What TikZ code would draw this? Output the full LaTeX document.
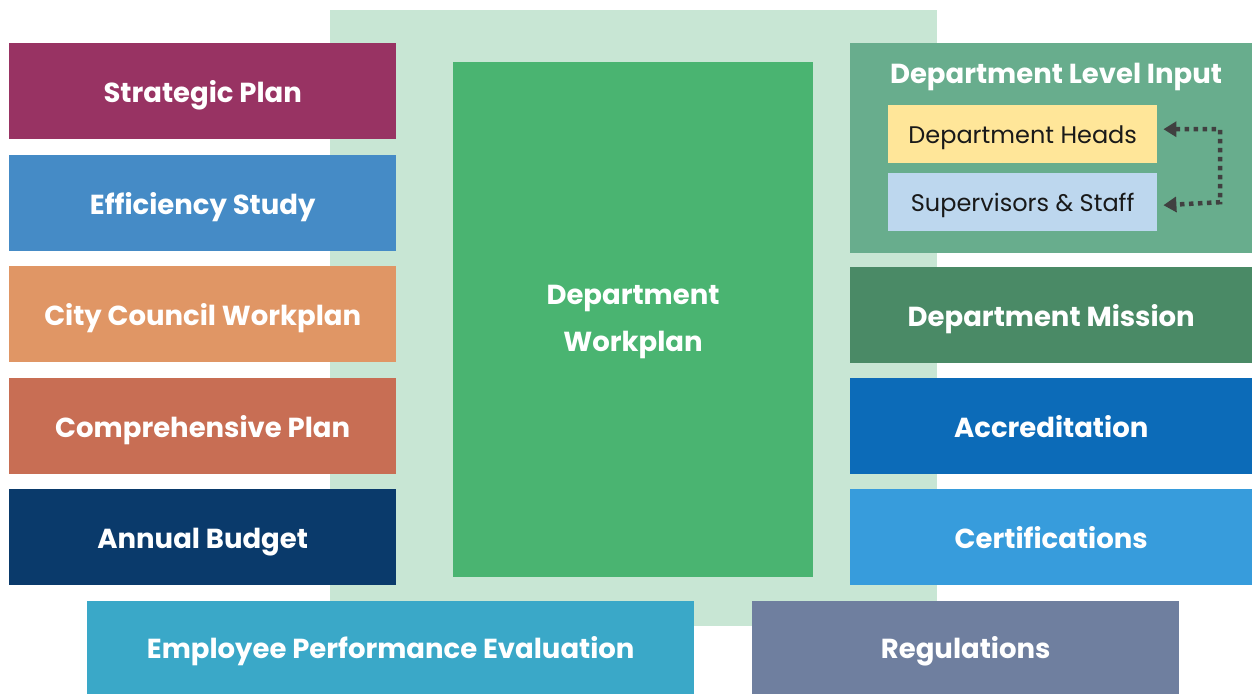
\documentclass[tikz,border=0pt]{standalone}
\usepackage{fontspec}
\setmainfont{Poppins}
\usetikzlibrary{arrows.meta}
\definecolor{bgGreen}{HTML}{C8E6D4}
\definecolor{wpGreen}{HTML}{4AB471}
\definecolor{cStrat}{HTML}{983363}
\definecolor{cEff}{HTML}{458BC6}
\definecolor{cCity}{HTML}{E09665}
\definecolor{cComp}{HTML}{C86E54}
\definecolor{cBudget}{HTML}{0A3A6B}
\definecolor{cDli}{HTML}{68AD8D}
\definecolor{cHeads}{HTML}{FFE699}
\definecolor{cSup}{HTML}{BDD7EE}
\definecolor{cMission}{HTML}{4A8A66}
\definecolor{cAccr}{HTML}{0C6BB8}
\definecolor{cCert}{HTML}{379CDC}
\definecolor{cEmp}{HTML}{3AA8C8}
\definecolor{cReg}{HTML}{6F7F9F}
\definecolor{cArrow}{HTML}{404040}
\tikzset{
  block/.style={anchor=north west, inner sep=0pt, text=white,
    font=\fontsize{27.5}{32}\selectfont\bfseries, text height=24pt, text depth=2pt},
  subbox/.style={anchor=north west, inner sep=0pt, text=black!90,
    font=\fontsize{24}{28}\selectfont, text height=20pt, text depth=2pt},
  loop/.style={draw=cArrow, line width=4.5pt, dash pattern=on 4.5pt off 4.5pt,
    {Triangle[length=13pt,width=15pt]}-{Triangle[length=13pt,width=15pt]}},
}
\begin{document}
\begin{tikzpicture}[x=1pt,y=-1pt]
\useasboundingbox (0,0) rectangle (1252,694);
% backdrop and central workplan
\fill[bgGreen] (330,10) rectangle (937,626);
\node[block, fill=wpGreen, minimum width=360pt, minimum height=515pt] (wp) at (453,62) {};
\node[text=white, font=\fontsize{27.5}{47}\selectfont\bfseries, align=center] (wptext) at (633,322) {Department\\Workplan};
% left column
\node[block, fill=cStrat, minimum width=387pt, minimum height=96pt] (strat) at (9,43) {Strategic Plan};
\node[block, fill=cEff, minimum width=387pt, minimum height=96pt] (eff) at (9,155) {Efficiency Study};
\node[block, fill=cCity, minimum width=387pt, minimum height=96pt] (city) at (9,266) {City Council Workplan};
\node[block, fill=cComp, minimum width=387pt, minimum height=96pt] (comp) at (9,378) {Comprehensive Plan};
\node[block, fill=cBudget, minimum width=387pt, minimum height=96pt] (budget) at (9,489) {Annual Budget};
% right column
\node[block, fill=cDli, minimum width=402pt, minimum height=210pt] (dli) at (850,43) {};
\node[text=white, inner sep=0pt, font=\fontsize{27.5}{32}\selectfont\bfseries, text height=24pt, text depth=2pt] (dlititle) at (1056,72) {Department Level Input};
\node[subbox, fill=cHeads, minimum width=269pt, minimum height=58pt] (heads) at (888,105) {Department Heads};
\node[subbox, fill=cSup, minimum width=269pt, minimum height=58pt] (sup) at (888,173) {Supervisors \& Staff};
\node[block, fill=cMission, minimum width=402pt, minimum height=96pt] (mission) at (850,267) {Department Mission};
\node[block, fill=cAccr, minimum width=402pt, minimum height=96pt] (accr) at (850,378) {Accreditation};
\node[block, fill=cCert, minimum width=402pt, minimum height=96pt] (cert) at (850,489) {Certifications};
% bottom row
\node[block, fill=cEmp, minimum width=607pt, minimum height=93pt] (emp) at (87,601) {Employee Performance Evaluation};
\node[block, fill=cReg, minimum width=427pt, minimum height=93pt] (reg) at (752,601) {Regulations};
% feedback loop between heads and staff
\coordinate (turn) at (1220,0);
\draw[loop] ([xshift=6pt,yshift=5pt]heads.east) -| (turn |- sup.east) -- ([xshift=6pt,yshift=-3pt]sup.east);
\end{tikzpicture}
\end{document}
